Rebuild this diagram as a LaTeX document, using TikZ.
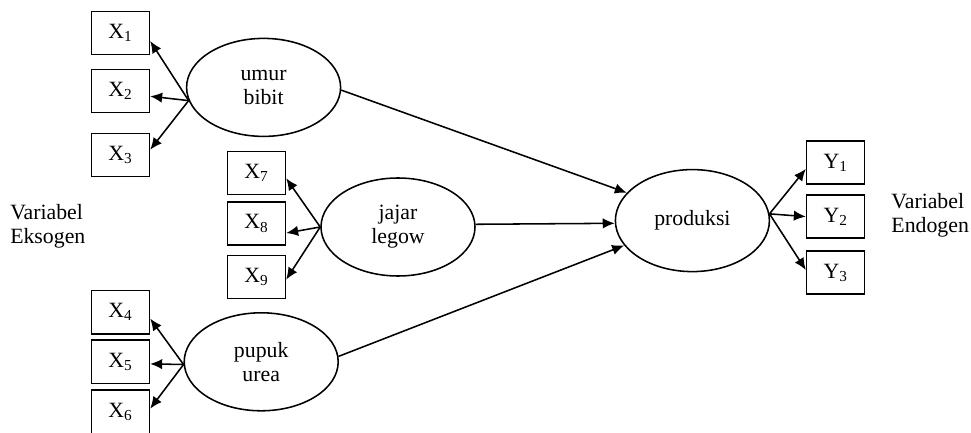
\documentclass[tikz,border=0pt]{standalone}
\usepackage{fontspec}
\setmainfont{Liberation Serif}
\usepackage{tikz}
\usetikzlibrary{arrows.meta,shapes.geometric}

\tikzset{
  indbox/.style={draw, line width=1.1pt, minimum width=1.45cm, minimum height=1.08cm, inner sep=0pt},
  latent/.style={draw, ellipse, line width=1.1pt, minimum width=3.85cm, minimum height=2.45cm, inner sep=0pt, align=center},
  link/.style={line width=1.1pt, -{Latex[length=3mm,width=2.6mm]}}
}

\begin{document}
\begin{tikzpicture}[font=\fontsize{15.5}{17}\selectfont]
			\useasboundingbox (0,0) rectangle (24.275,10.825);

			% eksogen: umur bibit
			\node[indbox] (x1) at (3.01,10.0) {X\textsubscript{1}};
			\node[indbox] (x2) at (3.01,8.55) {X\textsubscript{2}};
			\node[indbox] (x3) at (3.01,6.95) {X\textsubscript{3}};
			\node[latent] (ub) at (6.59,8.64) {umur\\bibit};

			% eksogen: jajar legow
			\node[indbox] (x7) at (6.41,6.5) {X\textsubscript{7}};
			\node[indbox] (x8) at (6.41,5.24) {X\textsubscript{8}};
			\node[indbox] (x9) at (6.41,3.9) {X\textsubscript{9}};
			\node[latent] (jl) at (9.95,5.15) {jajar\\legow};

			% eksogen: pupuk urea
			\node[indbox] (x4) at (3.01,3.02) {X\textsubscript{4}};
			\node[indbox] (x5) at (3.01,1.78) {X\textsubscript{5}};
			\node[indbox] (x6) at (3.01,0.53) {X\textsubscript{6}};
			\node[latent] (pu) at (6.53,1.78) {pupuk\\urea};

			% endogen
			\node[latent, minimum height=2.55cm] (pr) at (17.31,5.31) {produksi};
			\node[indbox] (y1) at (20.89,6.76) {Y\textsubscript{1}};
			\node[indbox] (y2) at (20.89,5.41) {Y\textsubscript{2}};
			\node[indbox] (y3) at (20.89,4.01) {Y\textsubscript{3}};

			\node[anchor=west, align=left, inner sep=0pt] (eks) at (0.25,5.17) {Variabel\\Eksogen};
			\node[anchor=west, align=left, inner sep=0pt] (end) at (22.28,5.45) {Variabel\\Endogen};

			\draw[link] (ub.190) -- (x1.345);
			\draw[link] (ub.190) -- (x2.350);
			\draw[link] (ub.190) -- (x3.10);

			\draw[link] (jl.180) -- (x7.350);
			\draw[link] (jl.180) -- (x8.342);
			\draw[link] (jl.180) -- (x9.355);

			\draw[link] (pu.182) -- (x4.348);
			\draw[link] (pu.182) -- (x5.356);
			\draw[link] (pu.182) -- (x6.6);

			\draw[link] (ub.358) -- (pr.157);
			\draw[link] (jl.2) -- (pr.182);
			\draw[link] (pu.4) -- (pr.200);

			\draw[link] (pr.5) -- (y1.192);
			\draw[link] (pr.5) -- (y2.west);
			\draw[link] (pr.5) -- (y3.175);
		\end{tikzpicture}
\end{document}
